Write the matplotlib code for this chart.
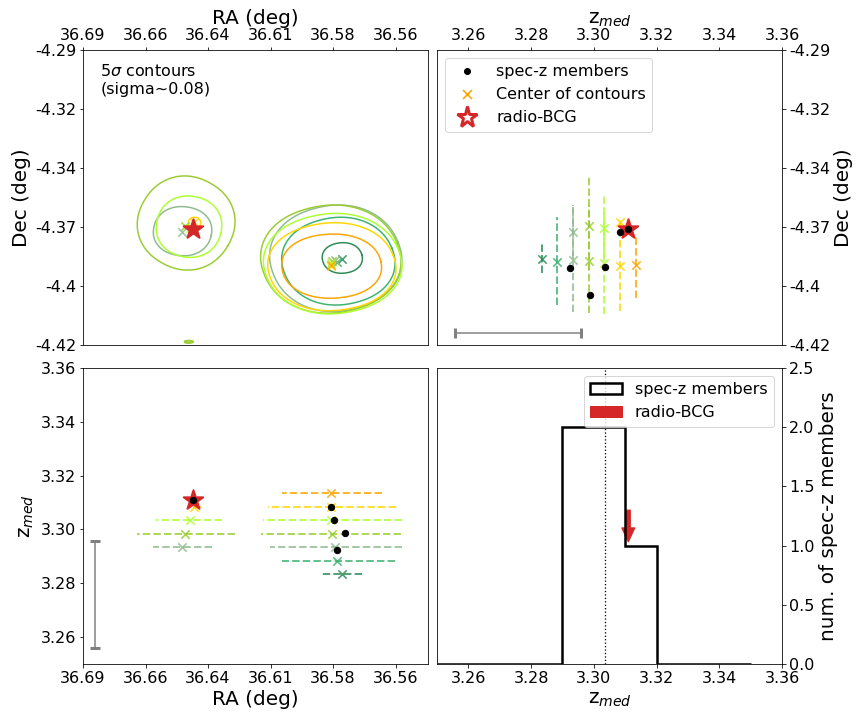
import numpy as np
import matplotlib
matplotlib.use("Agg")
import matplotlib.pyplot as plt
from matplotlib.lines import Line2D

# ---------------- data ----------------
slice_z = [3.2834, 3.2884, 3.2934, 3.2984, 3.3034, 3.3084, 3.3134]
slice_colors = ['seagreen', 'mediumseagreen', 'darkseagreen', 'yellowgreen',
                'greenyellow', 'gold', 'orange']

# contour centres (markers) and extents, one entry per contour
cont_slice = [2, 3, 4, 5, 0, 1, 2, 3, 4, 5, 6]
cont_ra = [36.6480, 36.6468, 36.6450, 36.6430,
           36.5805, 36.5827, 36.5836, 36.5850, 36.5854, 36.5854, 36.5854]
cont_dec = [-4.3703, -4.3676, -4.3686, -4.3660,
            -4.3821, -4.3836, -4.3825, -4.3830, -4.3840, -4.3852, -4.3849]
cont_ra_lo = [36.6356, 36.6258, 36.6314, 36.6403,
              36.5720, 36.5582, 36.5553, 36.5557, 36.5553, 36.5578, 36.5639]
cont_ra_hi = [36.6603, 36.6671, 36.6591, 36.6455,
              36.5890, 36.6061, 36.6112, 36.6150, 36.6138, 36.6120, 36.6061]
cont_dec_lo = [-4.3807, -4.3870, -4.3814, -4.3685,
               -4.3884, -4.4024, -4.4053, -4.4060, -4.4063, -4.4049, -4.3994]
cont_dec_hi = [-4.3590, -4.3455, -4.3543, -4.3637,
               -4.3749, -4.3637, -4.3583, -4.3583, -4.3620, -4.3661, -4.3711]
cont_tilt = [-10, -30, -12, 0, 12, 18, 18, 18, 18, 15, 8]

# small contour piece at the lower edge (no centre marker)
edge_ra_lo, edge_ra_hi = 36.6437, 36.6471
edge_dec_lo, edge_dec_hi = -4.4191, -4.4181
edge_color = 'yellowgreen'

# spectroscopic members
mem_ra = [36.5826, 36.5792, 36.5838, 36.5854, 36.6434]
mem_dec = [-4.3862, -4.3980, -4.3858, -4.3700, -4.3688]
mem_z = [3.2925, 3.2988, 3.3035, 3.3085, 3.3110]

# radio BCG
bcg_ra, bcg_dec, bcg_z = 36.6434, -4.3688, 3.3110

# z scale bar
bar_z, bar_half = 3.2758, 0.0200

# axes ticks
ra_ticks = [36.69, 36.6636, 36.6372, 36.6108, 36.5844, 36.5580]
ra_labels = ['36.69', '36.66', '36.64', '36.61', '36.58', '36.56']
dec_ticks = [-4.29, -4.316, -4.342, -4.368, -4.394, -4.42]
dec_labels = ['-4.29', '-4.32', '-4.34', '-4.37', '-4.4', '-4.42']
z_ticks = [3.26, 3.28, 3.30, 3.32, 3.34, 3.36]
hist_bins = [3.25, 3.26, 3.27, 3.28, 3.29, 3.30, 3.31, 3.32, 3.33, 3.34, 3.35]
n_ticks = [0.0, 0.5, 1.0, 1.5, 2.0, 2.5]

ra_lim = (36.69, 36.5443)
dec_lim = (-4.42, -4.29)
z_lim = (3.25, 3.36)

FS_TICK = 16
FS_LAB = 20
FS_LEG = 16
STAR_S = 420


def contour_curve(ra_lo, ra_hi, dec_lo, dec_hi, tilt, n=2.15, npts=300):
    t = np.linspace(0, 2 * np.pi, npts)
    u = np.sign(np.cos(t)) * np.abs(np.cos(t)) ** (2.0 / n)
    v = np.sign(np.sin(t)) * np.abs(np.sin(t)) ** (2.0 / n)
    th = np.radians(tilt)
    u2 = u * np.cos(th) - v * np.sin(th)
    v2 = u * np.sin(th) + v * np.cos(th)
    u2 = u2 / np.abs(u2).max()
    v2 = v2 / np.abs(v2).max()
    cx, hx = (ra_lo + ra_hi) / 2, (ra_hi - ra_lo) / 2
    cy, hy = (dec_lo + dec_hi) / 2, (dec_hi - dec_lo) / 2
    return cx - hx * u2, cy + hy * v2


fig = plt.figure(figsize=(12, 10), dpi=72)
W, H = 864, 720
ax1 = fig.add_axes([83 / W, 1 - 345 / H, 345 / W, 295 / H])
ax2 = fig.add_axes([437 / W, 1 - 345 / H, 345 / W, 295 / H])
ax3 = fig.add_axes([83 / W, 1 - 664 / H, 345 / W, 296 / H])
ax4 = fig.add_axes([437 / W, 1 - 664 / H, 345 / W, 296 / H])

# ---------- top-left: sky map with contours ----------
for i in range(len(cont_ra)):
    c = slice_colors[cont_slice[i]]
    x, y = contour_curve(cont_ra_lo[i], cont_ra_hi[i], cont_dec_lo[i],
                         cont_dec_hi[i], cont_tilt[i])
    ax1.plot(x, y, color=c, lw=1.5, zorder=2)
x, y = contour_curve(edge_ra_lo, edge_ra_hi, edge_dec_lo, edge_dec_hi, 0)
ax1.plot(x, y, color=edge_color, lw=2, zorder=2)
for i in range(len(cont_ra)):
    c = slice_colors[cont_slice[i]]
    ax1.scatter(cont_ra[i], cont_dec[i], marker='x', s=70, color=c,
                linewidths=1.6, alpha=0.85, zorder=3)
ax1.scatter(bcg_ra, bcg_dec, marker='*', s=STAR_S, facecolors='tab:red',
            edgecolors='tab:red', linewidths=2, zorder=4)
ax1.set_xlim(*ra_lim)
ax1.set_ylim(*dec_lim)
ax1.xaxis.tick_top()
ax1.xaxis.set_label_position('top')
ax1.set_xticks(ra_ticks)
ax1.set_xticklabels(ra_labels)
ax1.set_yticks(dec_ticks)
ax1.set_yticklabels(dec_labels)
ax1.set_xlabel('RA (deg)', fontsize=FS_LAB)
ax1.set_ylabel('Dec (deg)', fontsize=FS_LAB)
ax1.tick_params(labelsize=FS_TICK)
ax1.text(0.05, 0.955, '5$\\sigma$ contours\n(sigma~0.08)', transform=ax1.transAxes,
         fontsize=FS_LEG, va='top', ha='left')

# ---------- top-right: z vs Dec ----------
for i in range(len(cont_ra)):
    c = slice_colors[cont_slice[i]]
    zz = slice_z[cont_slice[i]]
    ax2.vlines(zz, cont_dec_lo[i], cont_dec_hi[i], colors=c, linestyles='--',
               lw=2, alpha=0.8, zorder=2)
    ax2.scatter(zz, cont_dec[i], marker='x', s=70, color=c, linewidths=1.6,
                alpha=0.85, zorder=3)
ax2.errorbar(bar_z, -4.4149, xerr=bar_half, color='gray', capsize=5,
             capthick=3, lw=1.5, zorder=2)
ax2.scatter(bcg_z, bcg_dec, marker='*', s=STAR_S, facecolors='tab:red',
            edgecolors='tab:red', linewidths=2, zorder=4)
ax2.scatter(mem_z, mem_dec, marker='o', s=40, color='black', zorder=5)
ax2.set_xlim(*z_lim)
ax2.set_ylim(*dec_lim)
ax2.xaxis.tick_top()
ax2.xaxis.set_label_position('top')
ax2.yaxis.tick_right()
ax2.yaxis.set_label_position('right')
ax2.set_xticks(z_ticks)
ax2.set_xticklabels(['%.2f' % v for v in z_ticks])
ax2.set_yticks(dec_ticks)
ax2.set_yticklabels(dec_labels)
ax2.set_xlabel('z$_{med}$', fontsize=FS_LAB)
ax2.set_ylabel('Dec (deg)', fontsize=FS_LAB)
ax2.tick_params(labelsize=FS_TICK)
h_mem = Line2D([], [], ls='none', marker='o', color='black', markersize=6)
h_cen = Line2D([], [], ls='none', marker='x', color='orange', markersize=9,
               markeredgewidth=1.6)
h_bcg = Line2D([], [], ls='none', marker='*', markerfacecolor='white',
               markeredgecolor='tab:red', markersize=22, markeredgewidth=3)
ax2.legend([h_mem, h_cen, h_bcg],
           ['spec-z members', 'Center of contours', 'radio-BCG'],
           loc='upper left', fontsize=FS_LEG)

# ---------- bottom-left: RA vs z ----------
for i in range(len(cont_ra)):
    c = slice_colors[cont_slice[i]]
    zz = slice_z[cont_slice[i]]
    ax3.hlines(zz, cont_ra_lo[i], cont_ra_hi[i], colors=c, linestyles='--',
               lw=2, alpha=0.8, zorder=2)
    ax3.scatter(cont_ra[i], zz, marker='x', s=70, color=c, linewidths=1.6,
                alpha=0.85, zorder=3)
ax3.errorbar(36.685, bar_z, yerr=bar_half, color='gray', capsize=5,
             capthick=3, lw=1.5, zorder=2)
ax3.scatter(bcg_ra, bcg_z, marker='*', s=STAR_S, facecolors='tab:red',
            edgecolors='tab:red', linewidths=2, zorder=4)
ax3.scatter(mem_ra, mem_z, marker='o', s=40, color='black', zorder=5)
ax3.set_xlim(*ra_lim)
ax3.set_ylim(*z_lim)
ax3.set_xticks(ra_ticks)
ax3.set_xticklabels(ra_labels)
ax3.set_yticks(z_ticks)
ax3.set_yticklabels(['%.2f' % v for v in z_ticks])
ax3.set_xlabel('RA (deg)', fontsize=FS_LAB)
ax3.set_ylabel('z$_{med}$', fontsize=FS_LAB)
ax3.tick_params(labelsize=FS_TICK)

# ---------- bottom-right: histogram ----------
ax4.hist(mem_z, bins=hist_bins, histtype='step', color='black', lw=2.5,
         label='spec-z members')
ax4.axvline(np.median(mem_z), color='black', ls=':', lw=1.3)
ax4.arrow(bcg_z, 1.3, 0, -0.27, width=0.0013, head_width=0.0042,
          head_length=0.12, length_includes_head=True, color='tab:red',
          label='radio-BCG')
ax4.set_xlim(*z_lim)
ax4.set_ylim(0, 2.5)
ax4.yaxis.tick_right()
ax4.yaxis.set_label_position('right')
ax4.set_xticks(z_ticks)
ax4.set_xticklabels(['%.2f' % v for v in z_ticks])
ax4.set_yticks(n_ticks)
ax4.set_yticklabels(['%.1f' % v for v in n_ticks])
ax4.set_xlabel('z$_{med}$', fontsize=FS_LAB)
ax4.set_ylabel('num. of spec-z members', fontsize=FS_LAB)
ax4.tick_params(labelsize=FS_TICK)
ax4.legend(loc='upper right', fontsize=FS_LEG)

fig.savefig('out.png', dpi=72)
